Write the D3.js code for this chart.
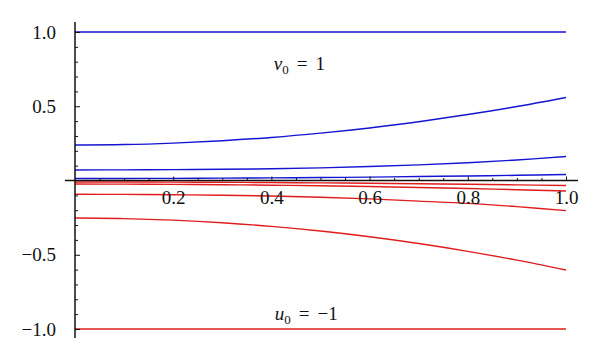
<!DOCTYPE html>
<html><head><meta charset="utf-8">
<script src="https://cdn.jsdelivr.net/npm/d3@7"></script>
<style>body{margin:0;background:#fff}svg{display:block}
text{font-family:"Liberation Serif","Times New Roman","DejaVu Serif",serif}</style>
</head><body>
<svg id="c" width="600" height="362"></svg>
<script>
const xs = [0,0.1,0.2,0.3,0.4,0.5,0.6,0.7,0.8,0.9,1.0];
const v1 = [1,1,1,1,1,1,1,1,1,1,1];
const v2 = [0.239,0.242,0.252,0.268,0.290,0.319,0.354,0.396,0.444,0.498,0.559];
const v3 = [0.071,0.0715,0.0731,0.0758,0.0790,0.0850,0.0943,0.1053,0.1197,0.1383,0.162];
const v4 = [0.0135,0.0138,0.0146,0.0159,0.0177,0.0201,0.0230,0.0265,0.0305,0.0350,0.040];
const u1 = [-0.010,-0.0102,-0.0110,-0.0122,-0.0138,-0.016,-0.0186,-0.0218,-0.0254,-0.0294,-0.034];
const u2 = [-0.024,-0.0245,-0.0259,-0.0282,-0.0315,-0.0358,-0.0409,-0.0470,-0.0541,-0.0621,-0.071];
const u3 = [-0.093,-0.0937,-0.0959,-0.0996,-0.1042,-0.1130,-0.1234,-0.1389,-0.1542,-0.1760,-0.203];
const u4 = [-0.253,-0.2565,-0.267,-0.2845,-0.309,-0.3405,-0.379,-0.4245,-0.477,-0.5365,-0.603];
const u5 = [-1,-1,-1,-1,-1,-1,-1,-1,-1,-1,-1];
const blueSeries = [v1,v2,v3,v4];
const redSeries = [u1,u2,u3,u4,u5];
const xTicks = [0.2,0.4,0.6,0.8,1.0];
const xTickLabels = ["0.2","0.4","0.6","0.8","1.0"];
const yTicks = [-1.0,-0.5,0.5,1.0];
const yTickLabels = ["\u22121.0","\u22120.5","0.5","1.0"];

const svg = d3.select("#c");
const x = d3.scaleLinear().domain([0,1]).range([75,566]);
const y = d3.scaleLinear().domain([-1,1]).range([329,32]);

const line = d3.line().x((d,i)=>x(xs[i])).y(d=>y(d)).curve(d3.curveCatmullRom);
svg.append("g").selectAll("path").data(blueSeries).join("path")
  .attr("d", line).attr("fill","none").attr("stroke","#1414d2").attr("stroke-width",1.4);
svg.append("g").selectAll("path").data(redSeries).join("path")
  .attr("d", line).attr("fill","none").attr("stroke","#e01c1c").attr("stroke-width",1.4);

// axes lines
svg.append("line").attr("x1",x(-0.0204)).attr("x2",x(1.0244)).attr("y1",y(0)).attr("y2",y(0))
  .attr("stroke","#111").attr("stroke-width",1.5);
svg.append("line").attr("x1",x(0)).attr("x2",x(0)).attr("y1",y(1.067)).attr("y2",y(-1.061))
  .attr("stroke","#111").attr("stroke-width",1.5);

// y minor ticks
const yMinor = d3.range(-10,11).filter(k=>k!==0 && k%5!==0).map(k=>k/10);
const yMinAx = d3.axisLeft(y).tickValues(yMinor).tickSize(-3).tickFormat("");
const gym = svg.append("g").attr("transform",`translate(${x(0)},0)`).call(yMinAx);
gym.select(".domain").remove();
gym.selectAll("line").attr("stroke","#111");
const yAx = d3.axisLeft(y).tickValues(yTicks).tickSize(-5).tickPadding(19)
  .tickFormat((d,i)=>yTickLabels[i]);
const gy = svg.append("g").attr("transform",`translate(${x(0)},0)`).call(yAx);
gy.select(".domain").remove();
gy.attr("font-family",null);
gy.selectAll("line").attr("stroke","#111");
gy.selectAll("text").attr("font-size",19).attr("fill","#111");

// x ticks
const xMinor = d3.range(1,21).filter(k=>k%4!==0).map(k=>k/20);
const xMinAx = d3.axisBottom(x).tickValues(xMinor).tickSize(-2.5).tickFormat("");
const gxm = svg.append("g").attr("transform",`translate(0,${y(0)})`).call(xMinAx);
gxm.select(".domain").remove();
gxm.selectAll("line").attr("stroke","#111");
const xAx = d3.axisBottom(x).tickValues(xTicks).tickSize(-4).tickPadding(10)
  .tickFormat((d,i)=>xTickLabels[i]);
const gx = svg.append("g").attr("transform",`translate(0,${y(0)})`).call(xAx);
gx.select(".domain").remove();
gx.attr("font-family",null);
gx.selectAll("line").attr("stroke","#111");
gx.selectAll("text").attr("font-size",19).attr("fill","#111");

// annotations
function label(xp, yp, letter, op, val){
  const t = svg.append("text").attr("x",xp).attr("y",yp)
    .attr("font-size",19).attr("fill","#111");
  t.append("tspan").attr("font-style","italic").text(letter);
  t.append("tspan").attr("font-size",13).attr("dy",4).text("0");
  t.append("tspan").attr("dy",-4).attr("dx",8).text(op);
  t.append("tspan").attr("dx",8).text(val);
}
label(x(0.405), 69.5, "v", "=", "1");
label(x(0.407), 320, "u", "=", "\u22121");
</script>
</body></html>
